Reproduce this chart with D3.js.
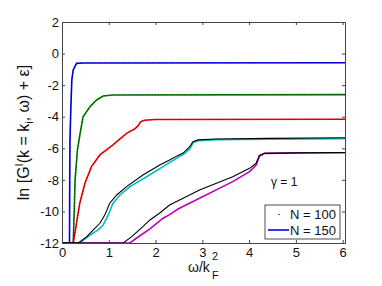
<!DOCTYPE html>
<html>
<head>
<meta charset="utf-8">
<script src="https://cdn.jsdelivr.net/npm/d3@7"></script>
<style>
  body { margin: 0; background: #fff; }
  text { font-family: "Liberation Sans", Arial, sans-serif; }
</style>
</head>
<body>
<div id="chart-area"></div>
<script>
// values: [omega/kF^2, ln G]
var xTicks = [0, 1, 2, 3, 4, 5, 6]
var yTicks = [-12, -10, -8, -6, -4, -2, 0, 2]

var curve1 = [[0, -12], [0.16, -12], [0.165, -8], [0.17, -5.5], [0.19, -3.36], [0.21, -1.67],
  [0.24, -1.04], [0.31, -0.62], [0.45, -0.6], [6.05, -0.58]]
var curve2 = [[0, -12], [0.24, -12], [0.26, -10.1], [0.28, -8.0], [0.33, -6.1], [0.40, -4.84],
  [0.45, -4.0], [0.60, -3.36], [0.74, -2.94], [0.88, -2.69], [1.09, -2.62], [6.05, -2.6]]
var curve3 = [[0, -12], [0.24, -12], [0.31, -10.75], [0.38, -9.48], [0.49, -8.22], [0.63, -7.16],
  [0.81, -6.42], [1.09, -5.79], [1.38, -5.05], [1.55, -4.78], [1.62, -4.6], [1.68, -4.32],
  [1.76, -4.22], [2.0, -4.18], [6.05, -4.16]]
var curve4_150 = [[0, -12], [0.38, -12], [0.6, -11.5], [0.77, -11.17], [0.88, -10.86], [0.99, -10.22],
  [1.09, -9.48], [1.24, -8.96], [1.45, -8.43], [1.81, -7.8], [2.16, -7.16], [2.48, -6.57],
  [2.59, -6.4], [2.73, -6.06], [2.80, -5.64], [2.91, -5.52], [3.3, -5.45], [4.43, -5.42], [6.05, -5.4]]
var curve4_100 = [[0, -12], [0.35, -12], [0.53, -11.6], [0.67, -11.17], [0.81, -10.75], [0.92, -10.2],
  [1.02, -9.48], [1.17, -8.96], [1.38, -8.43], [1.73, -7.69], [2.09, -7.06], [2.30, -6.74],
  [2.48, -6.45], [2.59, -6.3], [2.73, -5.9], [2.80, -5.58], [2.91, -5.47], [3.3, -5.41],
  [4.43, -5.37], [6.05, -5.33]]
var curve5_150 = [[0, -12], [1.45, -12], [1.59, -11.7], [1.88, -11.1], [2.16, -10.43], [2.30, -10.2],
  [2.48, -9.85], [2.94, -9.17], [3.65, -8.11], [4.01, -7.48], [4.15, -7.06], [4.22, -6.5],
  [4.33, -6.32], [5.0, -6.3], [6.05, -6.28]]
var curve5_100 = [[0, -12], [1.31, -12], [1.49, -11.6], [1.73, -10.96], [1.88, -10.54], [2.09, -10.1],
  [2.30, -9.59], [2.94, -8.64], [3.65, -7.8], [4.01, -7.27], [4.15, -6.95], [4.22, -6.45],
  [4.33, -6.32], [5.0, -6.29], [6.05, -6.27]]

var n150 = [curve1, curve2, curve3, curve4_150, curve5_150]
var n100 = [curve1, curve2, curve3, curve4_100, curve5_100]
var colors150 = ["#0000ff", "#008000", "#ff0000", "#00bfbf", "#bf00bf"]
var legendLabels = ["N = 100", "N = 150"]

var W = 382, H = 286
var pLeft = 62, pRight = 345, pTop = 22, pBottom = 243

var svg = d3.select("#chart-area").append("svg")
  .attr("width", W)
  .attr("height", H)

var x = d3.scaleLinear().domain([0, 6.05]).range([pLeft, pRight])
var y = d3.scaleLinear().domain([-12, 2]).range([pBottom, pTop])

svg.append("clipPath").attr("id", "clip")
  .append("rect")
  .attr("x", pLeft).attr("y", pTop - 1)
  .attr("width", pRight - pLeft).attr("height", pBottom - pTop + 1)

var line = d3.line()
  .x(function (d) { return x(d[0]) })
  .y(function (d) { return y(d[1]) })

var plot = svg.append("g").attr("clip-path", "url(#clip)")

plot.selectAll(".n150")
  .data(n150)
  .enter()
  .append("path")
  .attr("class", "n150")
  .attr("d", line)
  .attr("fill", "none")
  .attr("stroke", function (d, i) { return colors150[i] })
  .attr("stroke-width", 1.6)

// N = 100 is drawn with dense black dots on top
plot.selectAll(".n100")
  .data(n100)
  .enter()
  .append("path")
  .attr("class", "n100")
  .attr("d", line)
  .attr("fill", "none")
  .attr("stroke", "#000")
  .attr("stroke-width", function (d, i) { return i < 3 ? 0.8 : 1.1 })
  .attr("stroke-dasharray", function (d, i) { return i < 3 ? "0.8,2.2" : null })

// axes, matlab style box with inward ticks
function styleAxis(g) {
  g.select(".domain").attr("stroke", "#444")
  g.selectAll(".tick line").attr("stroke", "#444")
  g.selectAll("text").attr("font-size", 13).attr("fill", "#111")
    .attr("font-family", "Liberation Sans, Arial, sans-serif")
}

svg.append("g")
  .attr("transform", "translate(0," + pBottom + ")")
  .call(d3.axisBottom(x).tickValues(xTicks).tickSizeInner(-3).tickSizeOuter(0).tickPadding(5)
    .tickFormat(function (d) { return String(d) }))
  .call(styleAxis)

svg.append("g")
  .attr("transform", "translate(0," + pTop + ")")
  .call(d3.axisTop(x).tickValues(xTicks).tickSizeInner(-3).tickSizeOuter(0).tickFormat(""))
  .call(styleAxis)

svg.append("g")
  .attr("transform", "translate(" + pLeft + ",0)")
  .call(d3.axisLeft(y).tickValues(yTicks).tickSizeInner(-3).tickSizeOuter(0).tickPadding(3)
    .tickFormat(function (d) { return String(d) }))
  .call(styleAxis)

svg.append("g")
  .attr("transform", "translate(" + pRight + ",0)")
  .call(d3.axisRight(y).tickValues(yTicks).tickSizeInner(-3).tickSizeOuter(0).tickFormat(""))
  .call(styleAxis)

// x label
var xl = svg.append("text")
  .attr("x", 188).attr("y", 272)
  .attr("font-size", 14).attr("fill", "#111")
xl.append("tspan").text("ω/k")
xl.append("tspan").attr("x", 212).attr("y", 260).attr("font-size", 11).text("2")
svg.append("text").attr("x", 212).attr("y", 279)
  .attr("font-size", 11).attr("fill", "#111").text("F")

// y label
var yl = svg.append("text")
  .attr("transform", "translate(29," + ((pTop + pBottom) / 2) + ") rotate(-90)")
  .attr("text-anchor", "middle")
  .attr("font-size", 16).attr("fill", "#111")
yl.append("tspan").text("ln [G")
yl.append("tspan").attr("dy", -6).attr("font-size", 11).text("I")
yl.append("tspan").attr("dy", 6).text("(k = k")
yl.append("tspan").attr("dy", 4).attr("font-size", 11).text("i")
yl.append("tspan").attr("dy", -4).text(", ω) + ε]")

// gamma annotation
svg.append("text")
  .attr("x", 271).attr("y", 186)
  .attr("font-size", 12).attr("fill", "#111")
  .text("γ = 1")

// legend
var leg = svg.append("g")
leg.append("rect")
  .attr("x", 265).attr("y", 205)
  .attr("width", 75).attr("height", 34)
  .attr("fill", "#fff").attr("stroke", "#222").attr("stroke-width", 0.8)

leg.append("circle").attr("cx", 279).attr("cy", 214.5).attr("r", 0.7).attr("fill", "#000")
leg.append("line")
  .attr("x1", 268).attr("x2", 289).attr("y1", 230).attr("y2", 230)
  .attr("stroke", colors150[0]).attr("stroke-width", 1.6)

leg.selectAll(".lt")
  .data(legendLabels)
  .enter()
  .append("text")
  .attr("class", "lt")
  .attr("x", 290)
  .attr("y", function (d, i) { return 219 + i * 15.5 })
  .attr("font-size", 13).attr("fill", "#111")
  .text(function (d) { return d })
</script>
</body>
</html>
